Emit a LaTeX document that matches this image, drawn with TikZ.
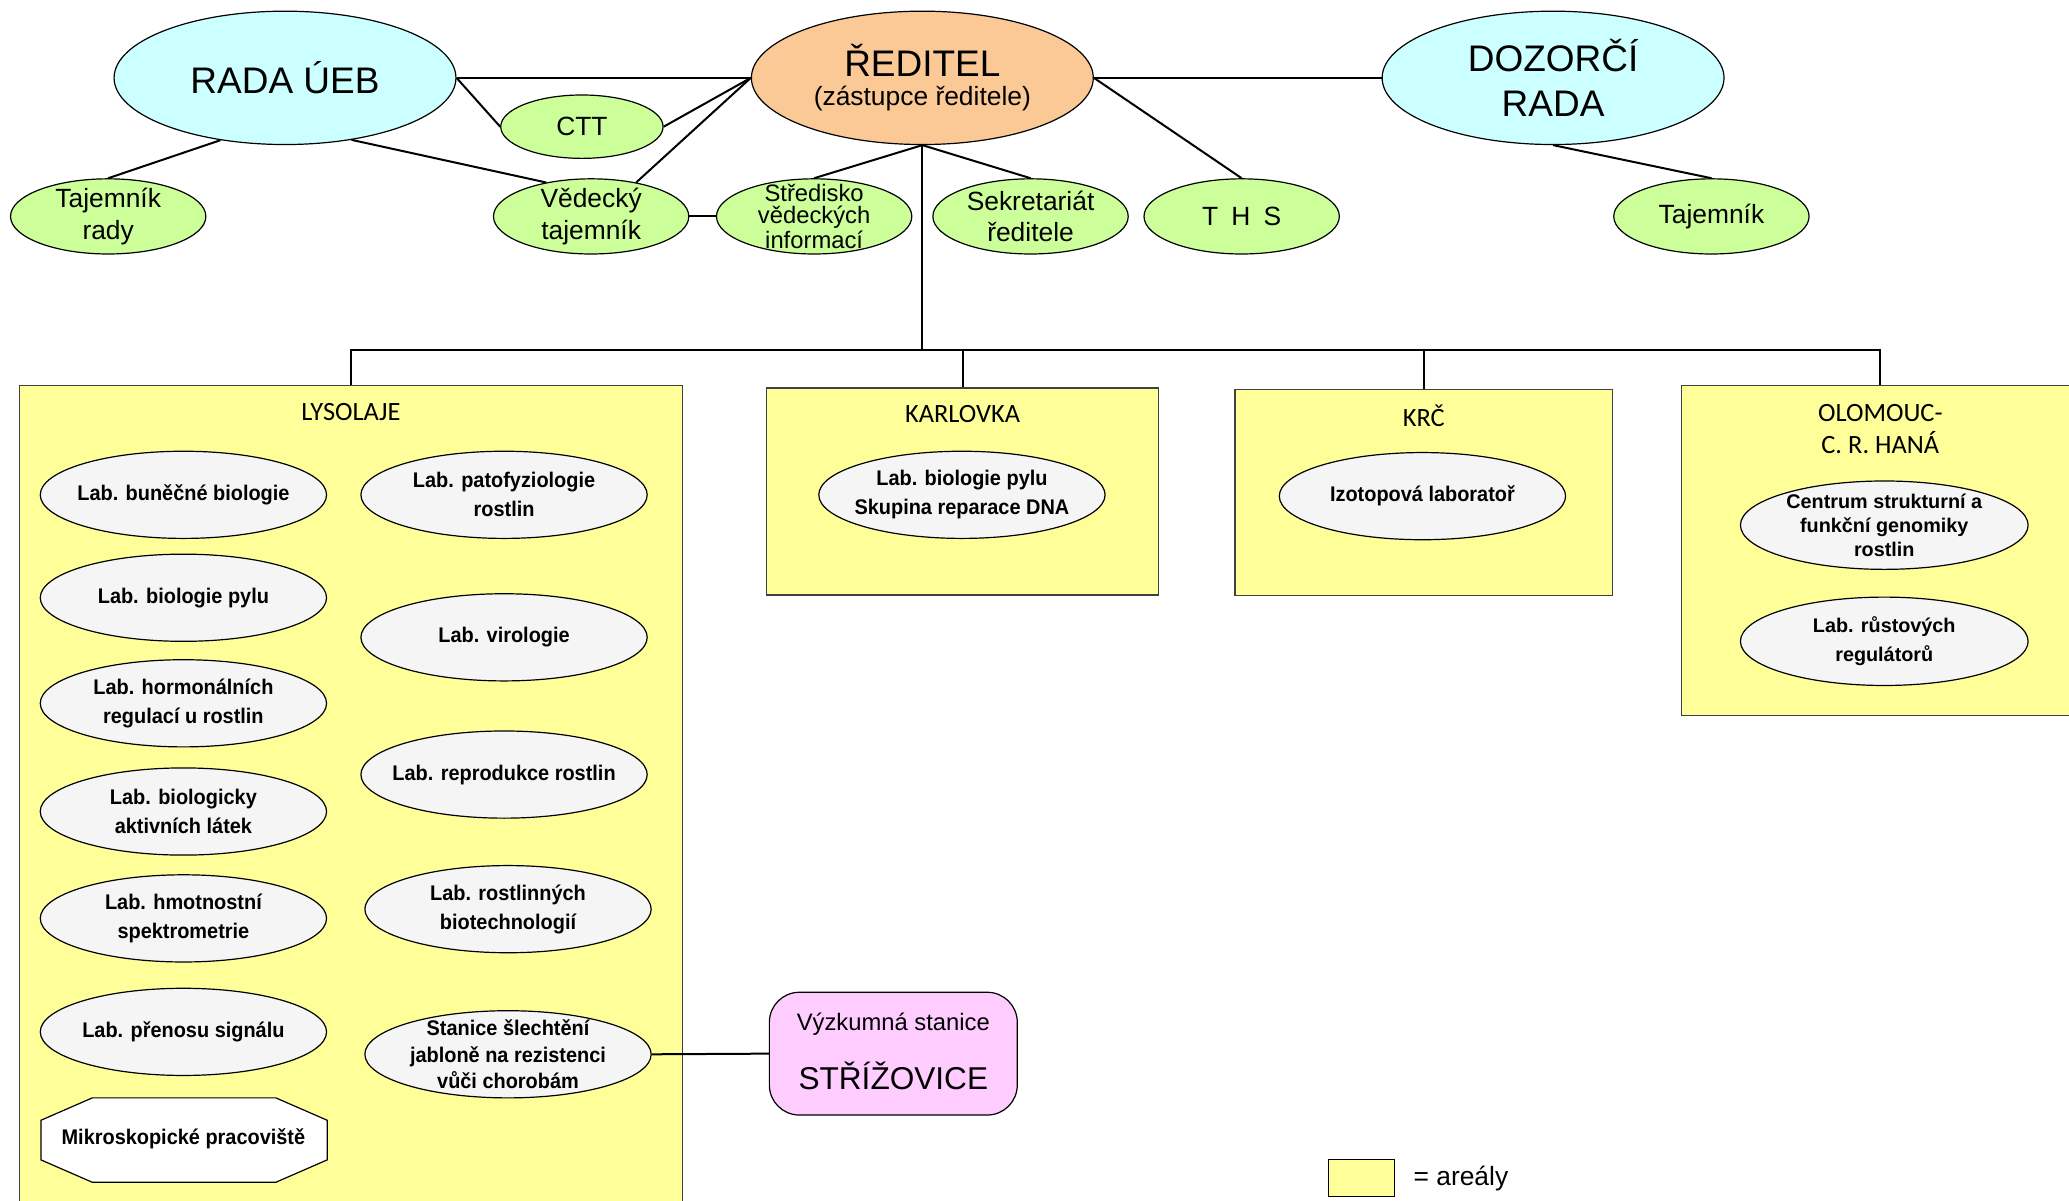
\documentclass[tikz,border=0pt]{standalone}
\usepackage{fontspec}
\setmainfont{Liberation Sans}
\newfontfamily\labf[FakeStretch=0.94]{Liberation Sans}
\newfontfamily\calf{Carlito}
\usetikzlibrary{shapes.geometric}
\definecolor{cyanL}{HTML}{CCFFFF}
\definecolor{orangeL}{HTML}{FBC996}
\definecolor{greenL}{HTML}{CCFF99}
\definecolor{yellowL}{HTML}{FFFF99}
\definecolor{grayL}{HTML}{F5F5F5}
\definecolor{pinkL}{HTML}{FFCCFF}
\definecolor{edgeG}{HTML}{404040}
\tikzset{
  ell/.style={ellipse, draw, line width=0.6pt, inner xsep=-25pt, inner ysep=-12pt, align=center},
  bigell/.style={ell, minimum width=171pt, minimum height=66.7pt},
  smallell/.style={ell, fill=greenL, minimum width=97.7pt, minimum height=37.6pt,
    font=\fontsize{13.2}{15.8}\selectfont},
  labell/.style={ell, fill=grayL, minimum width=143.2pt, minimum height=43.6pt,
    font=\labf\bfseries\fontsize{10.6}{14.5}\selectfont},
  olell/.style={ell, fill=grayL, minimum width=143.9pt, minimum height=44.2pt},
  area/.style={rectangle, draw=edgeG, line width=0.6pt, fill=yellowL, inner sep=0pt},
  areatxt/.style={font=\calf\fontsize{13.2}{15.8}\selectfont, align=center, inner sep=0pt},
  conn/.style={line width=1pt},
  txt/.style={inner sep=0pt, align=center}
}
\begin{document}
\begin{tikzpicture}[x=0.66pt,y=-0.66pt]
\useasboundingbox[fill=white] (0,0) rectangle (1568,910);
% ---- area boxes
\node[area, minimum width=331.3pt, minimum height=414.5pt] (lys) at (266,606) {};
\node[area, minimum width=196pt, minimum height=103.6pt] (kar) at (729.5,372.5) {};
\node[area, minimum width=188.8pt, minimum height=103pt] (krc) at (1079,373) {};
\node[area, minimum width=199.3pt, minimum height=165pt] (olo) at (1425,417) {};
\node[areatxt] (lyst) at (266,312) {LYSOLAJE};
\node[areatxt] (kart) at (729.5,314) {KARLOVKA};
\node[areatxt] (krct) at (1079,315) {KRČ};
\node[areatxt] (olot) at (1425,325) {OLOMOUC-\\C. R. HANÁ};
% ---- top row
\node[bigell, fill=cyanL, font=\fontsize{18.5}{22.4}\selectfont] (rada) at (216,59) {RADA ÚEB};
\node[bigell, fill=orangeL] (red) at (699,59) {};
\node[txt, font=\fontsize{18.5}{22}\selectfont] (redt) at (699,46) {ŘEDITEL};
\node[txt, font=\fontsize{13.2}{15.8}\selectfont] (redz) at (699,75) {(zástupce ředitele)};
\node[bigell, fill=cyanL, font=\fontsize{18.5}{22.4}\selectfont] (doz) at (1177,59) {DOZORČÍ\\RADA};
\node[ell, fill=greenL, minimum width=81.2pt, minimum height=31.7pt, font=\fontsize{13.2}{15.8}\selectfont] (ctt) at (441,96) {CTT};
\node[smallell] (tr) at (82,164) {Tajemník\\rady};
\node[smallell] (vt) at (448,164) {Vědecký\\tajemník};
\node[smallell, font=\fontsize{11.9}{10.9}\selectfont] (sv) at (617,164) {Středisko\\vědeckých\\informací};
\node[smallell] (sek) at (781,164) {Sekretariát\\ředitele};
\node[smallell] (ths) at (941,164) {T\hspace{0.5em}H\hspace{0.5em}S};
\node[smallell] (taj) at (1297,164) {Tajemník};
% ---- top connectors
\draw[conn] (rada.east) -- (red.west);
\draw[conn] (rada.east) -- (ctt.west);
\draw[conn] (ctt.east) -- (red.west);
\draw[conn] (vt.37) -- (red.west);
\draw[conn] (rada.-43) -- (vt.143);
\draw[conn] (rada.-136) -- (tr.north);
\draw[conn] (vt.east) -- (sv.west);
\draw[conn] (red.south) -- (sv.north);
\draw[conn] (red.south) -- (sek.north);
\draw[conn] (red.east) -- (doz.west);
\draw[conn] (red.east) -- (ths.north);
\draw[conn] (doz.south) -- (taj.north);
% ---- tree bus
\coordinate (bus) at (699,265);
\draw[conn] (red.south) -- (bus);
\draw[conn] (lys.north) |- (bus);
\draw[conn] (kar.north) |- (bus);
\draw[conn] (krc.north) |- (bus);
\draw[conn] (olo.north) |- (bus);
% ---- LYSOLAJE labs
\node[labell] (l1) at (139,375) {Lab. buněčné biologie};
\node[labell] (l2) at (139,453) {Lab. biologie pylu};
\node[labell] (l3) at (139,533) {Lab. hormonálních\\regulací u rostlin};
\node[labell] (l4) at (139,615) {Lab. biologicky\\aktivních látek};
\node[labell] (l5) at (139,696) {Lab. hmotnostní\\spektrometrie};
\node[labell] (l6) at (139,782) {Lab. přenosu signálu};
\draw[line width=0.6pt, fill=white] (70,832) -- (209,832) -- (248,849) -- (248,879) -- (209,896) -- (70,896) -- (31,879) -- (31,849) -- cycle;
\node[txt, font=\labf\bfseries\fontsize{10.6}{14.5}\selectfont] (mik) at (139,863) {Mikroskopické pracoviště};
\node[labell] (r1) at (382,375) {Lab. patofyziologie\\rostlin};
\node[labell] (r2) at (382,483) {Lab. virologie};
\node[labell] (r3) at (382,587) {Lab. reprodukce rostlin};
\node[labell] (r4) at (385,689) {Lab. rostlinných\\biotechnologií};
\node[labell, font=\labf\bfseries\fontsize{10.6}{13.2}\selectfont] (r5) at (385,799) {Stanice šlechtění\\jabloně na rezistenci\\vůči chorobám};
% ---- STŘÍŽOVICE
\node[rectangle, rounded corners=15pt, draw, line width=0.6pt, fill=pinkL, minimum width=124pt, minimum height=61.4pt] (str) at (677,798.5) {};
\node[txt, font=\fontsize{11.9}{14}\selectfont] (strv) at (677,776) {Výzkumná stanice};
\node[txt, font=\fontsize{15.8}{19}\selectfont] (strn) at (677,815) {STŘÍŽOVICE};
\draw[conn] (r5.east) -- (str.west);
% ---- other areas
\node[labell] (k1) at (729,375) {Lab. biologie pylu\\Skupina reparace DNA};
\node[labell] (c1) at (1078,376) {Izotopová laboratoř};
\node[olell, font=\bfseries\fontsize{9.9}{11.9}\selectfont] (o1) at (1428,398) {Centrum strukturní a\\funkční genomiky\\rostlin};
\node[olell, font=\bfseries\fontsize{9.9}{14.5}\selectfont] (o2) at (1428,486) {Lab. růstových\\regulátorů};
% ---- legend
\node[rectangle, draw, line width=0.6pt, fill=yellowL, minimum width=33pt, minimum height=18.5pt, inner sep=0pt] (leg) at (1032,893) {};
\node[txt, anchor=west, font=\fontsize{13.2}{15.8}\selectfont] (legt) at (1071,893) {= areály};
\end{tikzpicture}
\end{document}
